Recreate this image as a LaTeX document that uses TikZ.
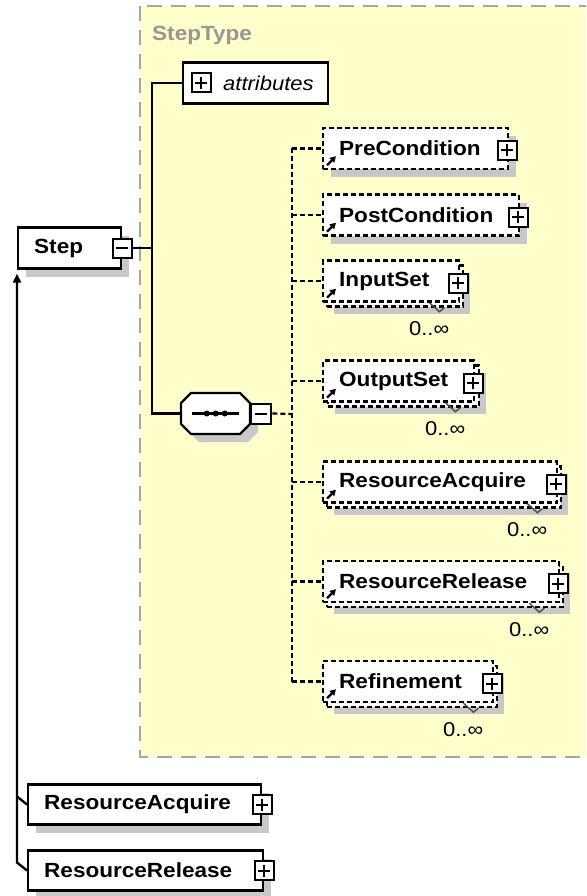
\documentclass[tikz,border=0pt]{standalone}
\usepackage{fontspec}
\setmainfont{Liberation Sans}
\newfontfamily\xsdfont[FakeStretch=1.1]{Liberation Sans}
\usetikzlibrary{shadows,arrows.meta}

\definecolor{typefill}{RGB}{255,255,204}
\definecolor{typeline}{RGB}{165,165,165}
\definecolor{typetext}{RGB}{150,150,150}
\definecolor{shadowgray}{RGB}{200,200,200}

\tikzset{
  elem/.style={draw, fill=white, line width=2.4pt, minimum height=41pt,
    inner xsep=16pt, inner ysep=0pt, anchor=west, align=left,
    font=\xsdfont\fontsize{20.5}{22}\selectfont\bfseries},
  opt/.style={dash pattern=on 5pt off 3pt},
  shadowed/.style={drop shadow={shadow xshift=8pt, shadow yshift=-8pt,
    fill=shadowgray, opacity=1}},
  backshadow/.style={drop shadow={shadow xshift=7pt, shadow yshift=-7pt,
    fill=shadowgray, opacity=1}},
  pmbox/.style={draw, fill=white, line width=2pt, minimum size=19pt, inner sep=0pt},
  plusbox/.style={pmbox, path picture={
    \draw[line width=2pt] ([xshift=-6pt]path picture bounding box.center)
      -- ([xshift=6pt]path picture bounding box.center)
      ([yshift=-6pt]path picture bounding box.center)
      -- ([yshift=6pt]path picture bounding box.center);}},
  minusbox/.style={pmbox, path picture={
    \draw[line width=2pt] ([xshift=-6pt]path picture bounding box.center)
      -- ([xshift=6pt]path picture bounding box.center);}},
  mult/.style={anchor=east, inner sep=0pt, font=\xsdfont\fontsize{20}{22}\selectfont},
  refmark/.style={line width=2.2pt, -{Triangle[length=6pt,width=6.5pt]}},
  notch/.style={line width=1.4pt, black!70},
  conn/.style={line width=2.4pt},
  optconn/.style={line width=2.2pt, dash pattern=on 5pt off 3pt},
  subst/.style={line width=2.4pt, -{Triangle[length=9pt,width=8pt]}, shorten >=4pt}
}

\begin{document}
\begin{tikzpicture}[x=1pt,y=-1pt]
\useasboundingbox (0,0) rectangle (586,896);
\clip (0,0) rectangle (586,896);

% complex type frame
\draw[fill=typefill, draw=typeline, line width=2.4pt, dash pattern=on 15pt off 9pt]
  (140,6) rectangle (600,757);
\node[anchor=west, inner sep=0pt, text=typetext,
  font=\xsdfont\fontsize{20.5}{22}\selectfont\bfseries] (typename) at (152,35) {StepType};

% global element
\node[elem, shadowed, text width=71pt] (step) at (17,248) {Step};
\node[minusbox] (stepM) at (step.east) {};

\node[elem, inner xsep=0pt, text width=145pt,
  font=\xsdfont\fontsize{20}{22}\selectfont\itshape] (attr) at (182,83) {\hspace*{40pt}attributes};
\node[plusbox] (attrP) at (201,83) {};

% sequence compositor
\fill[shadowgray, shift={(8,8)}] (191,393) -- (240,393) -- (250,403) -- (250,424)
  -- (240,434) -- (191,434) -- (181,424) -- (181,403) -- cycle;
\draw[fill=white, line width=2.4pt] (191,393) -- (240,393) -- (250,403) -- (250,424)
  -- (240,434) -- (191,434) -- (181,424) -- (181,403) -- cycle;
\node[minimum width=69pt, minimum height=41pt, inner sep=0pt, anchor=west] (seq) at (181,413.5) {};
\draw[line width=2.2pt] ([xshift=11pt]seq.west) -- ([xshift=-11pt]seq.east);
\foreach \dx in {-9,0,9}
  \fill ([xshift=\dx pt]seq.center) circle (3pt);
\node[minusbox, minimum size=20pt, anchor=west] (seqM) at (seq.east) {};

\coordinate (spine) at (152,248);
\coordinate (fork) at (292,414);
\draw[conn] (stepM.east) -- (spine) |- (attr.west);
\draw[conn] (spine) |- (seq.west);

% sequence children
\node[elem, opt, shadowed, text width=153pt] (pre) at (322,148.5) {PreCondition};
\node[elem, opt, shadowed, text width=164pt] (post) at (322,215) {PostCondition};

\node[elem, opt, backshadow, text width=104pt] (inB) at (326,286) {};
\node[elem, opt, text width=104pt] (in) at (322,281) {InputSet};
\node[elem, opt, backshadow, text width=119pt] (outB) at (327,386) {};
\node[elem, opt, text width=119pt] (out) at (322,381) {OutputSet};
\node[elem, opt, backshadow, text width=202pt] (racqB) at (326,487) {};
\node[elem, opt, text width=202pt] (racq) at (322,482) {ResourceAcquire};
\node[elem, opt, backshadow, text width=204pt] (rrelB) at (326,586.5) {};
\node[elem, opt, text width=204pt] (rrel) at (322,581.5) {ResourceRelease};
\node[elem, opt, backshadow, text width=138pt] (refB) at (326,686.5) {};
\node[elem, opt, text width=138pt] (ref) at (322,681.5) {Refinement};

\foreach \n in {pre,post,in,out,racq,rrel,ref} {
  \node[plusbox] (\n P) at ([shift={(-2,2)}]\n.east) {};
  \draw[refmark] ([shift={(5,-5)}]\n.south west) -- ++(9,-9);
}

\foreach \n in {in,out,racq,rrel,ref} {
  \draw[notch] ([shift={(-35,-5)}]\n B.south east) -- ++(10,9) -- ++(5,-4);
  \node[mult] (\n M) at ([shift={(-15,21)}]\n B.south east) {0..∞};
}

\draw[optconn] (seqM.east) -- (fork);
\draw[optconn] (fork |- pre.west) -- (fork |- ref.west);
\foreach \n in {pre,post,in,out,racq,rrel,ref}
  \draw[optconn] (fork |- \n.west) -- (\n.west);

% substitution group members
\node[elem, shadowed, minimum height=40pt, text width=201pt] (racq2) at (27,804.5) {ResourceAcquire};
\node[elem, shadowed, minimum height=40pt, text width=203pt] (rrel2) at (27,870.5) {ResourceRelease};
\node[plusbox] (racq2P) at (racq2.east) {};
\node[plusbox] (rrel2P) at (rrel2.east) {};

\draw[subst] (rrel2.west) -- ++(-10,-8) -- (step.south west);
\draw[conn] (racq2.west) -- ++(-10,-8);

\end{tikzpicture}
\end{document}
